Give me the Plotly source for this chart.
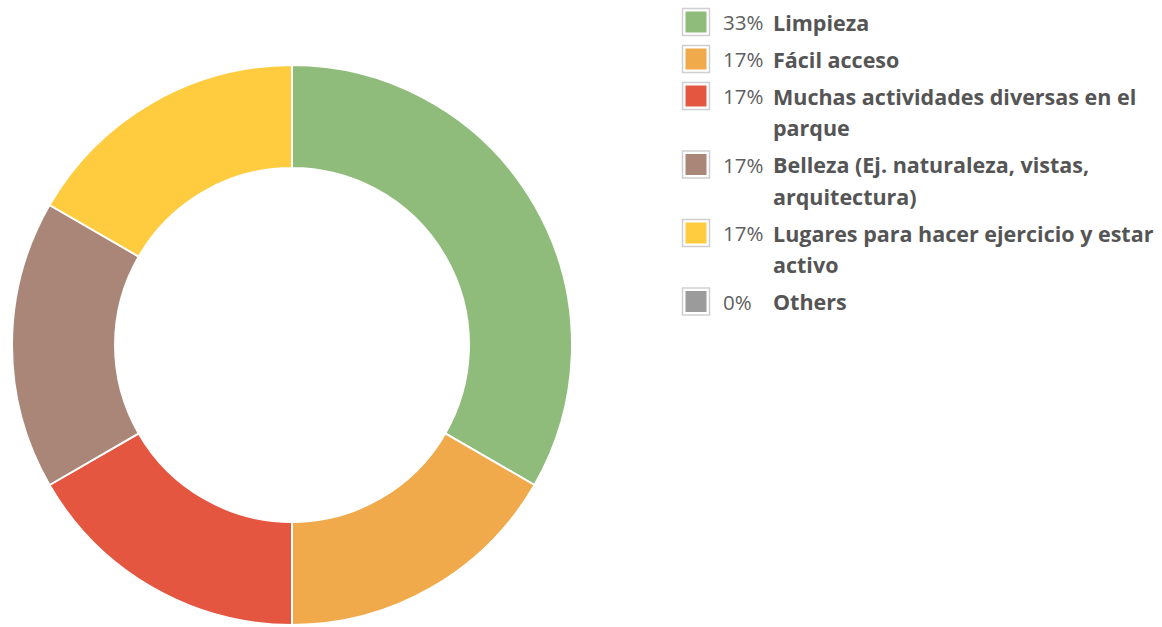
import plotly.graph_objects as go

# Survey answers: share of mentions per reason
labels = ["Limpieza", "Fácil acceso", "Muchas actividades diversas en el parque",
          "Belleza (Ej. naturaleza, vistas, arquitectura)",
          "Lugares para hacer ejercicio y estar activo", "Others"]
values = [2, 1, 1, 1, 1, 0]
colors = ["#8FBB7B", "#F0A94B", "#E55641", "#A98677", "#FFCC3F", "#9B9B9B"]
# Legend text broken into display lines
legend_lines = [
    ["Limpieza"],
    ["Fácil acceso"],
    ["Muchas actividades diversas en el", "parque"],
    ["Belleza (Ej. naturaleza, vistas,", "arquitectura)"],
    ["Lugares para hacer ejercicio y estar", "activo"],
    ["Others"],
]

W, H = 1162, 627


def px(x):
    return x / W


def py(y):
    return 1 - y / H


fig = go.Figure(go.Pie(
    labels=labels,
    values=values,
    marker=dict(colors=colors, line=dict(color="white", width=2)),
    hole=0.632,
    sort=False,
    direction="clockwise",
    rotation=0,
    textinfo="none",
    hoverinfo="label+percent",
    showlegend=False,
    domain=dict(x=[px(12), px(572)], y=[py(625), py(65)]),
))

total = sum(values)
annotations = []
shapes = []
y = 22.0
for name, val, col, lines in zip(labels, values, colors, legend_lines):
    pct = f"{round(100 * val / total)}%"
    # swatch: grey frame, white gap, coloured fill
    shapes.append(dict(type="rect", xref="paper", yref="paper",
                       x0=px(682.5), x1=px(709.5), y0=py(y - 13.5), y1=py(y + 13.5),
                       line=dict(color="#CFCFCF", width=1.5), fillcolor="white"))
    shapes.append(dict(type="rect", xref="paper", yref="paper",
                       x0=px(685.5), x1=px(706.5), y0=py(y - 10.5), y1=py(y + 10.5),
                       line=dict(width=0), fillcolor=col))
    annotations.append(dict(x=px(721), y=py(y), xref="paper", yref="paper",
                            text=pct, showarrow=False, xanchor="left", yanchor="middle",
                            font=dict(family="Open Sans", size=20.5, color="#5E5E5E")))
    for i, line in enumerate(lines):
        annotations.append(dict(x=px(771), y=py(y + i * 31.5), xref="paper", yref="paper",
                                text=f"<b>{line}</b>", showarrow=False,
                                xanchor="left", yanchor="middle",
                                font=dict(family="Open Sans", size=21.5, color="#555555")))
    y += 37 + 31.5 * (len(lines) - 1)

fig.update_layout(
    width=W, height=H,
    margin=dict(l=0, r=0, t=0, b=0),
    paper_bgcolor="white",
    plot_bgcolor="white",
    shapes=shapes,
    annotations=annotations,
)

fig.write_html("out.html")
